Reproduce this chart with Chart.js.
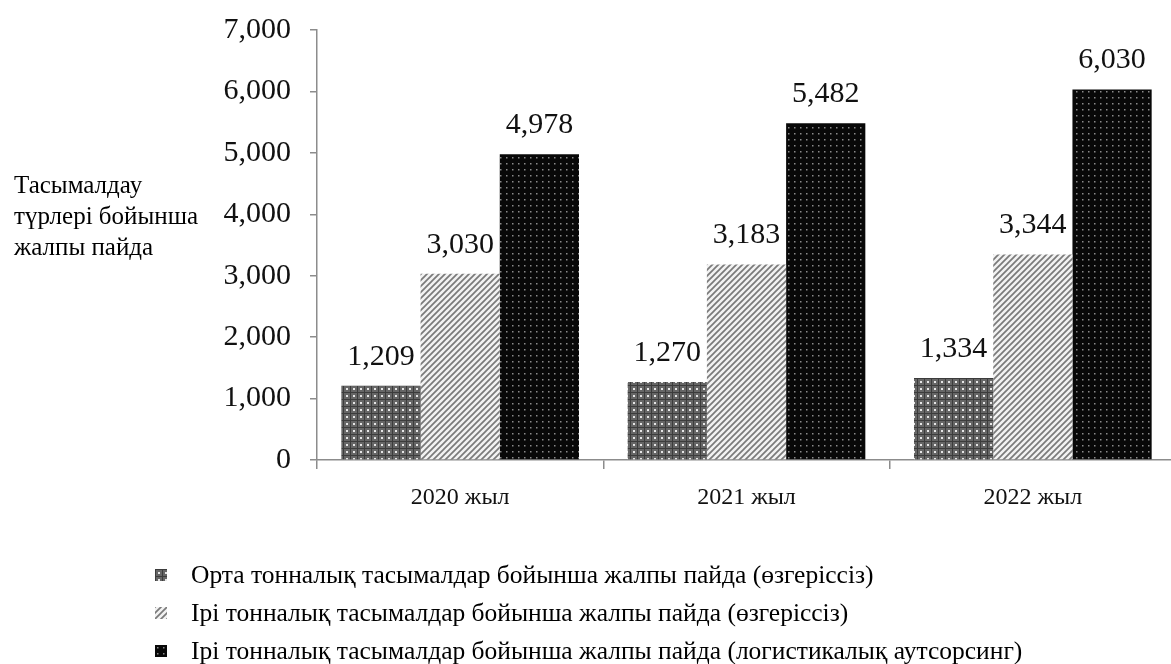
<!DOCTYPE html>
<html lang="kk">
<head>
<meta charset="utf-8">
<title>Тасымалдау түрлері бойынша жалпы пайда</title>
<script src="https://cdn.jsdelivr.net/npm/chart.js@4.4.1/dist/chart.umd.min.js"></script>
<style>
  html, body { margin: 0; padding: 0; background: #fff; overflow: hidden; }
  body { width: 1171px; height: 664px; position: relative; font-family: "Liberation Serif", "Times New Roman", serif; color: #000; }
  #chart-box { position: absolute; left: 0; top: -7px; width: 1180px; height: 530px; }
  #y-title { position: absolute; left: 14px; top: 169px; font-size: 25px; line-height: 31px; }
  #legend { position: absolute; left: 155px; top: 556px; font-size: 25.5px; }
  .legend-row { height: 38px; display: flex; align-items: center; }
  .legend-row canvas { width: 12px; height: 12px; margin-right: 24px; }
</style>
</head>
<body>
<div id="chart-box"><canvas id="bar-chart" width="1180" height="530"></canvas></div>
<div id="y-title">Тасымалдау<br>түрлері бойынша<br>жалпы пайда</div>
<div id="legend"></div>

<script>
// данные с картинки
const categories = ['2020 жыл', '2021 жыл', '2022 жыл'];
const seriesNames = [
    'Орта тонналық тасымалдар бойынша жалпы пайда (өзгеріссіз)',
    'Ірі тонналық тасымалдар бойынша жалпы пайда (өзгеріссіз)',
    'Ірі тонналық тасымалдар бойынша жалпы пайда (логистикалық аутсорсинг)'
];
const mediumTonnage = [1209, 1270, 1334];
const largeTonnage = [3030, 3183, 3344];
const largeOutsourcing = [4978, 5482, 6030];
const yTicks = [0, 1000, 2000, 3000, 4000, 5000, 6000, 7000];

// штриховки для столбиков
function makeTile(size, draw) {
    const c = document.createElement('canvas');
    c.width = size;
    c.height = size;
    draw(c.getContext('2d'), size);
    return c;
}

const dotGrayTile = makeTile(7, (g, s) => {
    g.fillStyle = '#666';
    g.fillRect(0, 0, s, s);
    g.fillStyle = '#3c3c3c';
    g.fillRect(0, 0, s, 1);
    g.fillRect(0, 0, 1, s);
    g.fillStyle = '#e6e6e6';
    g.fillRect(3, 3, 2, 2);
});

const hatchTile = makeTile(6, (g, s) => {
    g.fillStyle = '#f2f2f2';
    g.fillRect(0, 0, s, s);
    g.strokeStyle = '#7a7a7a';
    g.lineWidth = 1.7;
    g.beginPath();
    g.moveTo(-1, s + 1); g.lineTo(s + 1, -1);
    g.moveTo(-1, 1); g.lineTo(1, -1);
    g.moveTo(s - 1, s + 1); g.lineTo(s + 1, s - 1);
    g.stroke();
});

const dotBlackTile = makeTile(6, (g, s) => {
    g.fillStyle = '#080808';
    g.fillRect(0, 0, s, s);
    g.fillStyle = '#8a8a8a';
    g.fillRect(2, 2, 1.5, 1.5);
});

const tiles = [dotGrayTile, hatchTile, dotBlackTile];
const ctx = document.getElementById('bar-chart').getContext('2d');
const patterns = tiles.map(t => ctx.createPattern(t, 'repeat'));

// подписи значений над столбиками
const valueLabels = {
    id: 'valueLabels',
    afterDatasetsDraw(chart) {
        const g = chart.ctx;
        g.save();
        g.font = '30px "Liberation Serif"';
        g.fillStyle = '#111';
        g.textAlign = 'center';
        g.textBaseline = 'middle';
        chart.data.datasets.forEach((ds, i) => {
            chart.getDatasetMeta(i).data.forEach((bar, j) => {
                g.fillText(ds.data[j].toLocaleString('en-US'), bar.x, bar.y - 29);
            });
        });
        g.restore();
    }
};

const axisColor = '#8c8c8c';

new Chart(ctx, {
    type: 'bar',
    data: {
        labels: categories,
        datasets: [
            { label: seriesNames[0], data: mediumTonnage, backgroundColor: patterns[0] },
            { label: seriesNames[1], data: largeTonnage, backgroundColor: patterns[1] },
            { label: seriesNames[2], data: largeOutsourcing, backgroundColor: patterns[2] }
        ]
    },
    options: {
        responsive: false,
        animation: false,
        categoryPercentage: 0.83,
        barPercentage: 1.0,
        layout: { padding: { top: 22, right: 4, left: 0, bottom: 0 } },
        plugins: {
            legend: { display: false },
            tooltip: { enabled: false }
        },
        scales: {
            y: {
                min: 0,
                max: 7000,
                afterBuildTicks: (scale) => { scale.ticks = yTicks.map(v => ({ value: v })); },
                afterFit: (scale) => { scale.width = 317; },
                ticks: {
                    padding: 19,
                    color: '#111',
                    font: { family: 'Liberation Serif', size: 30 },
                    callback: (v) => Number(v).toLocaleString('en-US')
                },
                grid: { drawOnChartArea: false, tickLength: 7, color: axisColor, lineWidth: 1.5 },
                border: { color: axisColor, width: 1.5 }
            },
            x: {
                // canvas поднят на 7px, поэтому ось остаётся на y=460
                afterFit: (scale) => { scale.height = 63; },
                ticks: {
                    padding: 14,
                    color: '#111',
                    font: { family: 'Liberation Serif', size: 24 }
                },
                grid: { offset: true, drawOnChartArea: false, tickLength: 9, color: axisColor, lineWidth: 1.5 },
                border: { color: axisColor, width: 1.5 }
            }
        }
    },
    plugins: [valueLabels]
});

// легенда снизу
const legendBox = document.getElementById('legend');
seriesNames.forEach((name, i) => {
    const row = document.createElement('div');
    row.className = 'legend-row';
    const sw = document.createElement('canvas');
    sw.width = 12;
    sw.height = 12;
    const sg = sw.getContext('2d');
    sg.fillStyle = sg.createPattern(tiles[i], 'repeat');
    sg.fillRect(0, 0, 12, 12);
    row.appendChild(sw);
    const txt = document.createElement('span');
    txt.textContent = name;
    row.appendChild(txt);
    legendBox.appendChild(row);
});
</script>
</body>
</html>
